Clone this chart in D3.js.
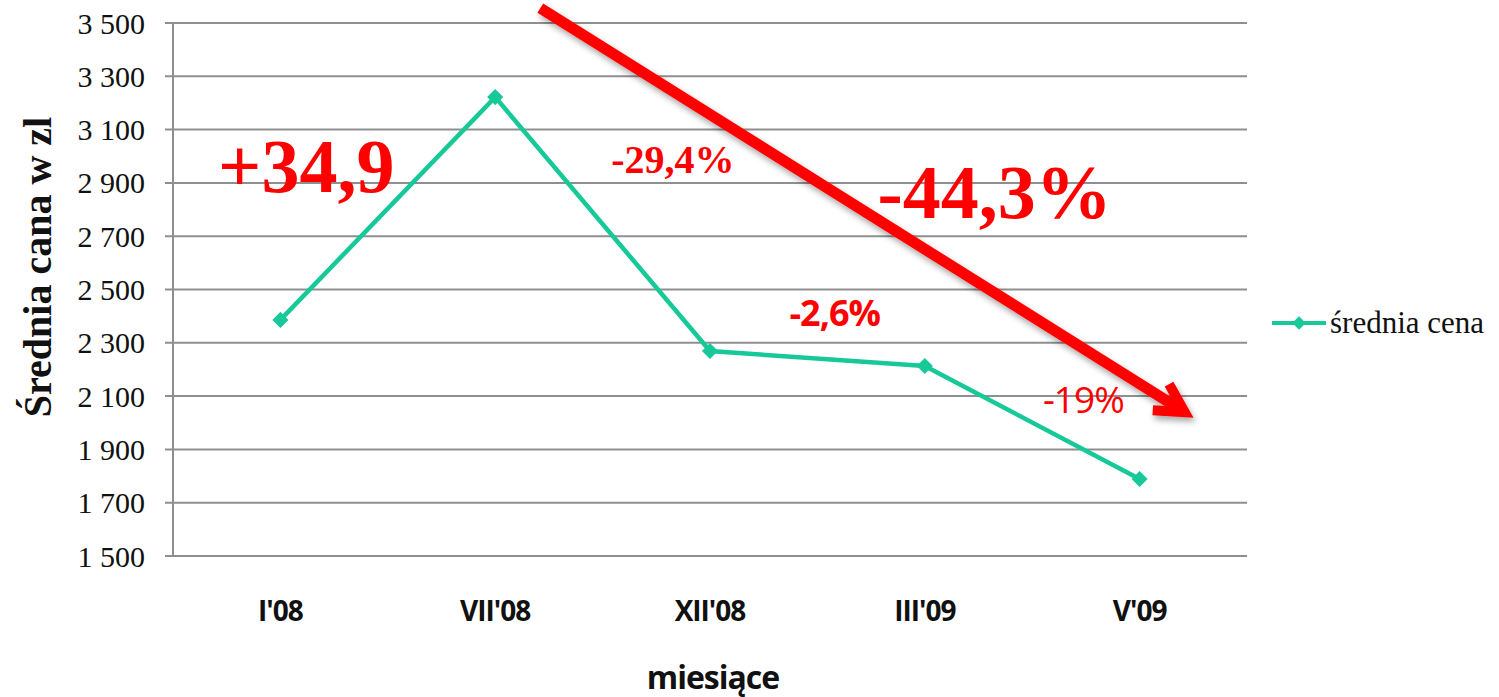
<!DOCTYPE html>
<html>
<head>
<meta charset="utf-8">
<title>Średnia cena</title>
<script src="https://cdn.jsdelivr.net/npm/d3@7/dist/d3.min.js"></script>
<style>
body, html {
  margin: 0;
  background: white;
}
.grid line { stroke: #8f8f8f; stroke-width: 2px; }
.ytick { font-family: "Liberation Serif", serif; font-size: 30px; fill: #111; }
.xtick { font-family: "Open Sans", sans-serif; font-weight: bold; font-size: 28px; fill: #111; letter-spacing: -1px; }
.title { font-family: "Open Sans", sans-serif; font-weight: bold; font-size: 32px; fill: #111; letter-spacing: -1px; }
.ytitle { font-family: "Liberation Serif", serif; font-weight: bold; font-size: 40px; fill: #111; }
.legend { font-family: "Liberation Serif", serif; font-size: 31px; fill: #111; }
.note { fill: #ff0000; }
</style>
</head>
<body>
<script>
// dane
var months = ["I'08", "VII'08", "XII'08", "III'09", "V'09"];
var prices = [2386, 3222, 2269, 2213, 1789];
var yTicks = [1500, 1700, 1900, 2100, 2300, 2500, 2700, 2900, 3100, 3300, 3500];

// opisy zmian (pozycja w jednostkach osi: indeks miesiąca, cena)
var noteTexts = ["+34,9", "-29,4%", "-44,3%", "-2,6%", "-19%"];
var noteX = [0.21, 2.04, 3.28, 2.87, 4.05];
var noteY = [2866, 2937, 2768, 2363, 2035];
var noteSize = [76, 40, 76, 36, 37];
var noteFont = ["Liberation Serif", "Liberation Serif", "Liberation Serif", "Open Sans", "Open Sans"];
var noteWeight = ["bold", "bold", "bold", "bold", "normal"];

// strzałka trendu
var trendFrom = [1.71, 3556];
var trendTo = [4.71, 2040];

var W = 1499, H = 697;
var mLeft = 173, mRight = 1247, mTop = 23, mBottom = 556;

var svg = d3.select("body").append("svg")
  .attr("width", W)
  .attr("height", H);

var x = d3.scaleBand().domain(months).range([mLeft, mRight]);
var xl = d3.scaleLinear().domain([0, months.length]).range([mLeft, mRight]);
var y = d3.scaleLinear().domain([1500, 3500]).range([mBottom, mTop]);

// siatka
svg.append("g").attr("class", "grid")
  .selectAll("line")
  .data(yTicks)
  .enter().append("line")
  .attr("x1", mLeft - 8)
  .attr("x2", mRight)
  .attr("y1", function(d) { return y(d); })
  .attr("y2", function(d) { return y(d); });

// oś Y
svg.append("line")
  .attr("x1", mLeft).attr("x2", mLeft)
  .attr("y1", mTop).attr("y2", mBottom)
  .attr("stroke", "#8f8f8f").attr("stroke-width", 2);

svg.append("g")
  .selectAll("text")
  .data(yTicks)
  .enter().append("text")
  .attr("class", "ytick")
  .attr("x", mLeft - 28)
  .attr("y", function(d) { return y(d); })
  .attr("dy", "0.35em")
  .attr("text-anchor", "end")
  .text(function(d) { return d3.format(",")(d).replace(",", " "); });

// oś X
svg.append("g")
  .selectAll("text")
  .data(months)
  .enter().append("text")
  .attr("class", "xtick")
  .attr("x", function(d) { return x(d) + x.bandwidth() / 2; })
  .attr("y", 621)
  .attr("text-anchor", "middle")
  .text(function(d) { return d; });

svg.append("text")
  .attr("class", "title")
  .attr("x", (mLeft + mRight) / 2 + 3)
  .attr("y", 689)
  .attr("text-anchor", "middle")
  .text("miesiące");

svg.append("text")
  .attr("class", "ytitle")
  .attr("transform", "translate(51,267) rotate(-90)")
  .attr("text-anchor", "middle")
  .text("Średnia cana w zl");

// linia
var green = "#17c998";
var line = d3.line()
  .x(function(d, i) { return x(months[i]) + x.bandwidth() / 2; })
  .y(function(d) { return y(d); });

svg.append("path")
  .datum(prices)
  .attr("d", line)
  .attr("fill", "none")
  .attr("stroke", green)
  .attr("stroke-width", 4.5);

var diamond = d3.symbol().type(d3.symbolSquare).size(130);
svg.append("g")
  .selectAll("path")
  .data(prices)
  .enter().append("path")
  .attr("d", diamond)
  .attr("fill", green)
  .attr("transform", function(d, i) {
    return "translate(" + (x(months[i]) + x.bandwidth() / 2) + "," + y(d) + ") rotate(45)";
  });

// legenda
var lg = svg.append("g").attr("transform", "translate(1272,323)");
lg.append("line").attr("x1", 0).attr("x2", 54).attr("stroke", green).attr("stroke-width", 4);
lg.append("path").attr("d", d3.symbol().type(d3.symbolSquare).size(90)).attr("fill", green).attr("transform", "translate(27,0) rotate(45)");
lg.append("text").attr("class", "legend").attr("x", 58).attr("dy", "0.32em").text("średnia cena");

// strzałka
var defs = svg.append("defs");
var f = defs.append("filter").attr("id", "shadow").attr("x", "-10%").attr("y", "-10%").attr("width", "130%").attr("height", "130%");
f.append("feDropShadow").attr("dx", 2).attr("dy", 4).attr("stdDeviation", 3).attr("flood-color", "#000").attr("flood-opacity", 0.35);

var ax1 = xl(trendFrom[0]), ay1 = y(trendFrom[1]);
var ax2 = xl(trendTo[0]), ay2 = y(trendTo[1]);
var ang = Math.atan2(ay2 - ay1, ax2 - ax1);
var head = 32, spread = 0.5;
var arrow = svg.append("g").attr("filter", "url(#shadow)");
arrow.append("line")
  .attr("x1", ax1).attr("y1", ay1)
  .attr("x2", ax2 - 6 * Math.cos(ang)).attr("y2", ay2 - 6 * Math.sin(ang))
  .attr("stroke", "#ff0000").attr("stroke-width", 11);
arrow.append("path")
  .attr("d", d3.line()([
    [ax2 - head * Math.cos(ang - spread), ay2 - head * Math.sin(ang - spread)],
    [ax2, ay2],
    [ax2 - head * Math.cos(ang + spread), ay2 - head * Math.sin(ang + spread)]
  ]))
  .attr("fill", "none")
  .attr("stroke", "#ff0000")
  .attr("stroke-width", 10)
  .attr("stroke-linejoin", "miter");

// opisy
svg.append("g")
  .selectAll("text")
  .data(noteTexts)
  .enter().append("text")
  .attr("class", "note")
  .attr("x", function(d, i) { return xl(noteX[i]); })
  .attr("y", function(d, i) { return y(noteY[i]); })
  .attr("font-family", function(d, i) { return noteFont[i]; })
  .attr("font-size", function(d, i) { return noteSize[i]; })
  .attr("font-weight", function(d, i) { return noteWeight[i]; })
  .attr("letter-spacing", function(d, i) { return noteFont[i] === "Open Sans" ? -1 : 0; })
  .text(function(d) { return d; });
</script>
</body>
</html>
